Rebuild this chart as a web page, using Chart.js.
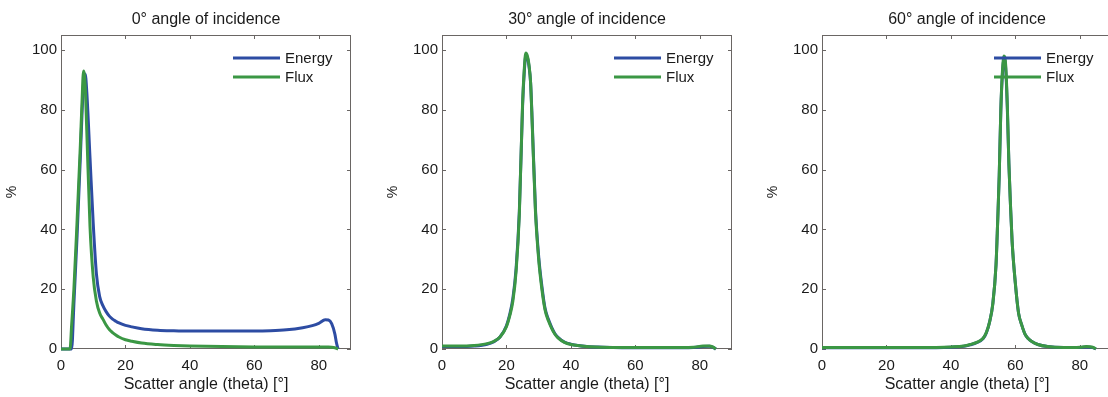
<!DOCTYPE html>
<html>
<head>
<meta charset="utf-8">
<script src="https://cdn.jsdelivr.net/npm/chart.js@4.4.0/dist/chart.umd.min.js"></script>
<style>
  html, body { margin: 0; padding: 0; background: #fff; overflow: hidden; }
  body { width: 1108px; height: 397px; position: relative; }
  .panel { position: absolute; top: 0; width: 412px; height: 397px; }
</style>
</head>
<body>
<div class="panel" style="left:0px"><canvas id="chart0"></canvas></div>
<div class="panel" style="left:381px"><canvas id="chart30"></canvas></div>
<div class="panel" style="left:761px"><canvas id="chart60"></canvas></div>
<script>
// Scatter angle (deg) and share (%) per incidence angle
const angles0 = [0, 2.8, 3.3, 4, 5, 6, 6.5, 7, 7.5, 8, 9, 10, 11, 12, 13, 14, 15, 16, 17, 18, 20, 22, 25, 30, 35, 40, 50, 60, 65, 70, 75, 78, 80, 82, 83, 84, 85, 85.5, 86];
const energy0 = [0, 0, 0, 15, 38, 64, 78, 89, 92, 86, 64, 42, 25, 17.5, 14.5, 12.5, 11, 10, 9.3, 8.7, 7.9, 7.4, 6.8, 6.3, 6.1, 6, 6, 6, 6.1, 6.4, 7.1, 7.8, 8.6, 9.8, 9.7, 8.5, 5, 2, 0];
const flux0 = [0, 0, 8, 20, 43, 68, 82, 93, 88, 73, 41, 24, 16, 12, 10, 8, 6.5, 5.5, 4.7, 4, 3.1, 2.6, 2, 1.5, 1.2, 1, 0.8, 0.7, 0.7, 0.7, 0.7, 0.7, 0.7, 0.7, 0.7, 0.6, 0.4, 0.2, 0];

const angles30 = [0, 5, 10, 14, 16, 18, 20, 21, 22, 23, 24, 25, 25.5, 26, 26.5, 27, 27.5, 28, 29, 30, 31, 32, 33, 34, 35, 36, 38, 40, 45, 50, 60, 70, 78, 81, 83, 84, 85];
const energy30 = [0.8, 0.8, 1, 1.6, 2.4, 4, 7.8, 11.5, 17, 27, 46, 81, 92, 98, 97.5, 94.5, 89, 76, 47, 31, 21, 13.5, 10, 7.3, 5.2, 3.9, 2.3, 1.6, 0.8, 0.6, 0.4, 0.4, 0.5, 0.8, 0.9, 0.6, 0];
const flux30 = [1, 1, 1.2, 1.8, 2.5, 4, 7.5, 11, 16, 26, 45, 82, 93, 99, 98, 95, 89, 75, 46, 30, 20, 13, 9.5, 7, 5, 3.7, 2.2, 1.5, 0.8, 0.6, 0.5, 0.5, 0.6, 1, 1, 0.7, 0];

const angles60 = [0, 10, 20, 30, 40, 44, 46, 48, 50, 51, 52, 53, 54, 54.5, 55, 55.5, 56, 56.5, 57, 57.5, 58, 58.5, 59, 60, 61, 62, 63, 64, 65, 67, 70, 75, 80, 82, 84, 85];
const energy60 = [0.4, 0.4, 0.4, 0.4, 0.6, 0.9, 1.4, 2.1, 3.5, 5.4, 9, 15, 28, 42, 58, 80, 92, 97, 94, 81, 62, 48, 36, 22, 12, 8, 5, 3.5, 2.6, 1.5, 0.8, 0.5, 0.5, 0.7, 0.5, 0];
const flux60 = [0.5, 0.5, 0.5, 0.5, 0.7, 1, 1.5, 2.2, 3.6, 5.5, 9, 15, 28, 42, 58, 80, 93, 98, 95, 82, 62, 48, 36, 22, 12, 8, 5, 3.5, 2.6, 1.5, 0.8, 0.5, 0.6, 0.8, 0.6, 0];

const xTicks = [0, 20, 40, 60, 80];
const yTicks = [0, 20, 40, 60, 80, 100];

const BLUE = '#2d4ca3';
const GREEN = '#3b9744';
const TEXT = '#1a1a1a';
const FONT = "'Liberation Sans', Arial, sans-serif";

Chart.defaults.font.family = FONT;
Chart.defaults.color = TEXT;

function points(xs, ys) {
    return xs.map((x, i) => ({ x: x, y: ys[i] }));
}

// axes box with inward ticks on all four sides
const boxPlugin = {
    id: 'box',
    beforeDatasetsDraw(chart) {
        const { ctx, chartArea: a, scales: { x, y } } = chart;
        ctx.save();
        ctx.strokeStyle = '#6a6664';
        ctx.lineWidth = 1;
        ctx.strokeRect(a.left + 0.5, a.top + 0.5, a.width - 1, a.height - 1);
        ctx.beginPath();
        x.ticks.forEach(t => {
            const px = Math.round(x.getPixelForValue(t.value)) + 0.5;
            ctx.moveTo(px, a.bottom); ctx.lineTo(px, a.bottom - 4);
            ctx.moveTo(px, a.top); ctx.lineTo(px, a.top + 4);
        });
        y.ticks.forEach(t => {
            const py = Math.round(y.getPixelForValue(t.value)) + 0.5;
            ctx.moveTo(a.left, py); ctx.lineTo(a.left + 4, py);
            ctx.moveTo(a.right, py); ctx.lineTo(a.right - 4, py);
        });
        ctx.stroke();
        ctx.restore();
    }
};

// line-style legend in the upper right corner
const legendPlugin = {
    id: 'lineLegend',
    afterDatasetsDraw(chart) {
        const { ctx, chartArea: a } = chart;
        ctx.save();
        ctx.font = '15px ' + FONT;
        ctx.textBaseline = 'middle';
        chart.data.datasets.forEach((ds, i) => {
            const yy = a.top + 23 + i * 19;
            ctx.strokeStyle = ds.borderColor;
            ctx.lineWidth = 3;
            ctx.beginPath();
            ctx.moveTo(a.right - 118, yy);
            ctx.lineTo(a.right - 71, yy);
            ctx.stroke();
            ctx.fillStyle = TEXT;
            ctx.fillText(ds.label, a.right - 66, yy + 1);
        });
        ctx.restore();
    }
};

function makeChart(id, title, angles, energy, flux) {
    return new Chart(document.getElementById(id), {
        type: 'scatter',
        data: {
            datasets: [
                { label: 'Energy', data: points(angles, energy), borderColor: BLUE, order: 1 },
                { label: 'Flux', data: points(angles, flux), borderColor: GREEN, order: 0 }
            ]
        },
        options: {
            responsive: true,
            maintainAspectRatio: false,
            animation: false,
            layout: { padding: 0 },
            elements: {
                point: { radius: 0 },
                line: { borderWidth: 3, cubicInterpolationMode: 'monotone' }
            },
            datasets: { scatter: { showLine: true, clip: false } },
            scales: {
                x: {
                    min: 0, max: 90,
                    afterFit: s => { s.height = 48; },
                    afterBuildTicks: s => { s.ticks = xTicks.map(v => ({ value: v })); },
                    grid: { display: false, drawTicks: false },
                    border: { display: false },
                    ticks: { padding: 8, font: { size: 15 }, color: TEXT },
                    title: {
                        display: true, text: 'Scatter angle (theta) [°]',
                        font: { size: 16 }, color: TEXT, padding: { top: 0, bottom: 3 }
                    }
                },
                y: {
                    min: 0, max: 105,
                    afterFit: s => { s.width = 61; },
                    afterBuildTicks: s => { s.ticks = yTicks.map(v => ({ value: v })); },
                    grid: { display: false, drawTicks: false },
                    border: { display: false },
                    ticks: { padding: 4, font: { size: 15 }, color: TEXT },
                    title: {
                        display: true, text: '%',
                        font: { size: 14 }, color: TEXT, padding: { top: 4, bottom: 0 }
                    }
                },
                // empty right-hand axis so the plot sits centred under the title
                yPad: {
                    position: 'right',
                    min: 0, max: 105,
                    afterFit: s => { s.width = 61; },
                    grid: { display: false, drawTicks: false },
                    border: { display: false },
                    ticks: { display: false }
                }
            },
            plugins: {
                legend: { display: false },
                tooltip: { enabled: false },
                title: {
                    display: true, text: title,
                    font: { size: 16, weight: 'normal', lineHeight: 1.2 },
                    color: TEXT,
                    padding: { top: 10, bottom: 5.8 }
                }
            }
        },
        plugins: [boxPlugin, legendPlugin]
    });
}

makeChart('chart0', '0° angle of incidence', angles0, energy0, flux0);
makeChart('chart30', '30° angle of incidence', angles30, energy30, flux30);
makeChart('chart60', '60° angle of incidence', angles60, energy60, flux60);
</script>
</body>
</html>
